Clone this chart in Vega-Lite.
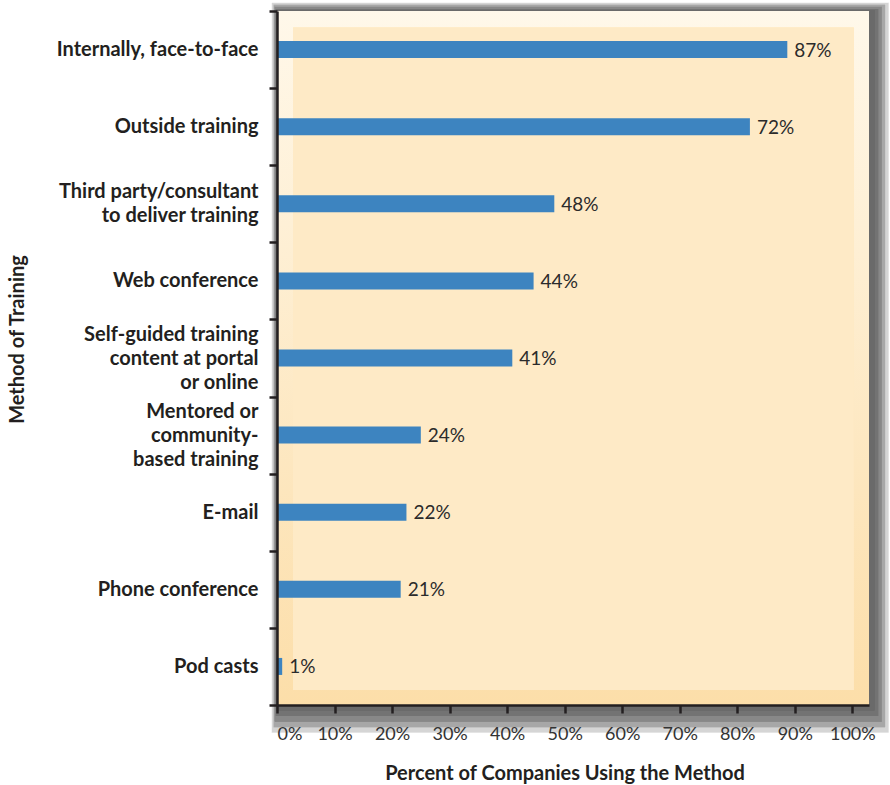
{
  "$schema": "https://vega.github.io/schema/vega-lite/v6.json",
  "width": 592,
  "height": 694,
  "autosize": {"type": "none"},
  "padding": {"left": 277, "top": 11, "right": 21, "bottom": 80},
  "background": "white",
  "config": {
    "view": {"stroke": null, "fill": null},
    "font": "Lato"
  },
  "data": {
    "values": [
      {"order": 1, "method": "Internally, face-to-face", "pct": 88.7, "label": "87%"},
      {"order": 2, "method": "Outside training", "pct": 82.2, "label": "72%"},
      {"order": 3, "method": "Third party/consultant|to deliver training", "pct": 48.2, "label": "48%"},
      {"order": 4, "method": "Web conference", "pct": 44.6, "label": "44%"},
      {"order": 5, "method": "Self-guided training|content at portal|or online", "pct": 40.9, "label": "41%"},
      {"order": 6, "method": "Mentored or|community-|based training", "pct": 25.0, "label": "24%"},
      {"order": 7, "method": "E-mail", "pct": 22.5, "label": "22%"},
      {"order": 8, "method": "Phone conference", "pct": 21.5, "label": "21%"},
      {"order": 9, "method": "Pod casts", "pct": 0.9, "label": "1%"}
    ]
  },
  "resolve": {"scale": {"y": "independent"}},
  "layer": [
    {
      "encoding": {
        "x": {"type": "quantitative", "scale": {"domain": [0, 102.9], "nice": false}},
        "y": {"type": "quantitative", "scale": {"domain": [0, 1], "nice": false}, "axis": null}
      },
      "layer": [
        {"mark": {"type": "rect", "color": "#6a6a6a", "opacity": 0.035},
         "encoding": {"x": {"datum": -0.9, "type": "quantitative"}, "x2": {"datum": 106.3}, "y": {"datum": 1.012, "type": "quantitative"}, "y2": {"datum": -0.04}}},
        {"mark": {"type": "rect", "color": "#6a6a6a", "opacity": 0.05},
         "encoding": {"x": {"datum": -0.6, "type": "quantitative"}, "x2": {"datum": 105.7}, "y": {"datum": 1.009, "type": "quantitative"}, "y2": {"datum": -0.032}}},
        {"mark": {"type": "rect", "color": "#6a6a6a", "opacity": 0.06},
         "encoding": {"x": {"datum": -0.4, "type": "quantitative"}, "x2": {"datum": 105.1}, "y": {"datum": 1.006, "type": "quantitative"}, "y2": {"datum": -0.024}}},
        {"mark": {"type": "rect", "color": "#6a6a6a", "opacity": 0.07},
         "encoding": {"x": {"datum": -0.2, "type": "quantitative"}, "x2": {"datum": 104.5}, "y": {"datum": 1.003, "type": "quantitative"}, "y2": {"datum": -0.016}}},
        {"mark": {"type": "rect", "color": "#6a6a6a", "opacity": 0.08},
         "encoding": {"x": {"datum": -0.1, "type": "quantitative"}, "x2": {"datum": 103.9}, "y": {"datum": 1.001, "type": "quantitative"}, "y2": {"datum": -0.008}}},
        {"mark": {"type": "rect", "color": {"gradient": "linear", "x1": 0, "y1": 0, "x2": 0, "y2": 1, "stops": [{"offset": 0, "color": "#FFF8EA"}, {"offset": 1, "color": "#FCDEA9"}]}},
         "encoding": {"x": {"datum": 0, "type": "quantitative"}, "x2": {"datum": 102.9}, "y": {"datum": 1, "type": "quantitative"}, "y2": {"datum": 0}}},
        {"mark": {"type": "rect", "color": "#FEEAC6"},
         "encoding": {"x": {"datum": 2.8, "type": "quantitative"}, "x2": {"datum": 100.2}, "y": {"datum": 0.976, "type": "quantitative"}, "y2": {"datum": 0.022}}}
      ]
    },
    {
      "layer": [
        {
          "mark": {"type": "bar", "color": "#3D84C0", "size": 17},
          "encoding": {
            "x": {"field": "pct", "type": "quantitative"},
            "y": {"field": "method", "type": "nominal", "sort": {"field": "order"}}
          }
        },
        {
          "mark": {"type": "text", "align": "left", "baseline": "middle", "dx": 7, "dy": 1, "font": "Lato", "fontSize": 19, "color": "#2b2b2b"},
          "encoding": {
            "x": {"field": "pct", "type": "quantitative"},
            "y": {"field": "method", "type": "nominal", "sort": {"field": "order"}},
            "text": {"field": "label"}
          }
        }
      ],
      "encoding": {
        "x": {
          "field": "pct", "type": "quantitative",
          "scale": {"domain": [0, 102.9], "nice": false},
          "axis": {
            "title": "Percent of Companies Using the Method",
            "zindex": 2,
            "values": [0, 10, 20, 30, 40, 50, 60, 70, 80, 90, 100],
            "labelExpr": "datum.value + '%'",
            "grid": false,
            "domainColor": "#231f20", "domainWidth": 2.5,
            "tickColor": "#231f20", "tickWidth": 2.5, "tickSize": 8,
            "labelFont": "Lato", "labelFontSize": 18, "labelColor": "#333333", "labelPadding": 12,
            "titleFont": "Lato", "titleFontSize": 20, "titleFontWeight": "bold", "titleColor": "#231f20", "titlePadding": 20, "titleX": 287.5
          }
        },
        "y": {
          "field": "method", "type": "nominal", "sort": {"field": "order"},
          "scale": {"paddingInner": 0, "paddingOuter": 0},
          "axis": {
            "title": "Method of Training",
            "zindex": 2,
            "tickBand": "extent",
            "labelExpr": "split(datum.label, '|')",
            "labelLineHeight": 24,
            "labelLimit": 320,
            "labelOffset": {"condition": [
              {"test": "length(split(datum.value, '|')) == 3", "value": -24},
              {"test": "length(split(datum.value, '|')) == 2", "value": -12}
            ], "value": 0},
            "domainColor": "#231f20", "domainWidth": 2.5,
            "tickColor": "#231f20", "tickWidth": 2.5, "tickSize": 8,
            "labelFont": "Lato", "labelFontSize": 20, "labelFontWeight": "bold", "labelColor": "#231f20", "labelPadding": 11,
            "titleFont": "Lato", "titleFontSize": 20, "titleFontWeight": "bold", "titleColor": "#231f20",
            "titleX": -250, "titleY": 328, "titleAngle": -90, "titleAlign": "center", "titleBaseline": "bottom"
          }
        }
      }
    }
  ]
}
